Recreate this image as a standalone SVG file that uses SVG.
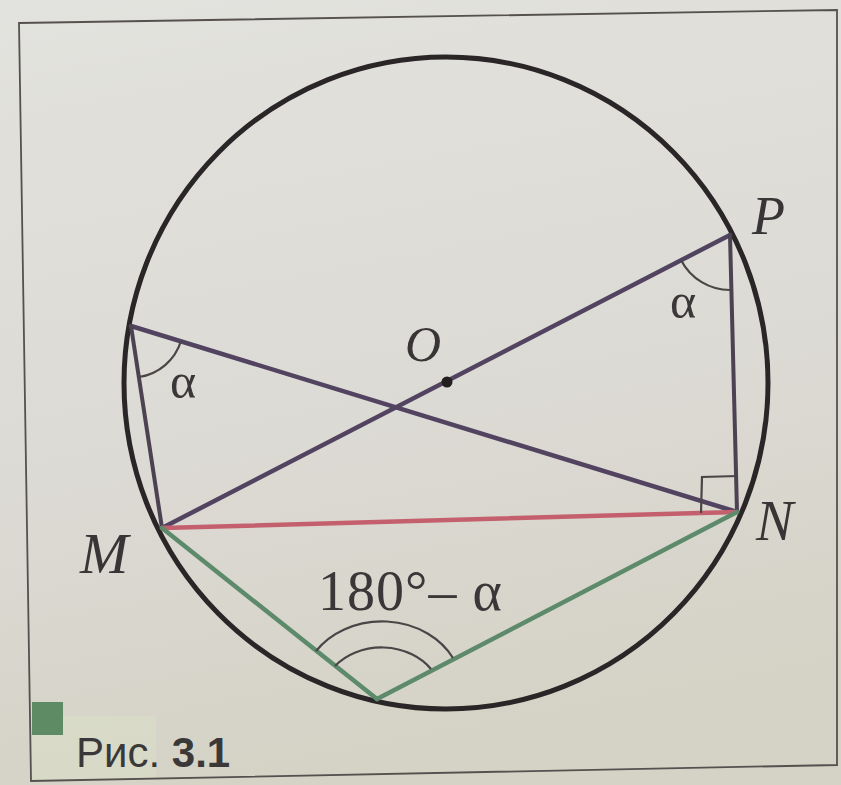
<svg xmlns="http://www.w3.org/2000/svg" width="841" height="785" viewBox="0 0 841 785">
  <defs>
    <linearGradient id="paper" x1="0" y1="0" x2="0.2" y2="1">
      <stop offset="0" stop-color="#e2e2de"/>
      <stop offset="0.6" stop-color="#dcdad4"/>
      <stop offset="1" stop-color="#d5d2c6"/>
    </linearGradient>
    <style>
      .frame { fill: none; stroke: #55514f; stroke-width: 1.8; }
      .circ { fill: none; stroke: #2a2526; stroke-width: 5; }
      .purple { stroke: #524460; stroke-width: 4.5; stroke-linecap: round; fill: none; }
      .chord { stroke: #4c4252; stroke-width: 4; stroke-linecap: round; fill: none; }
      .red { stroke: #c4606e; stroke-width: 4.5; stroke-linecap: round; fill: none; }
      .green { stroke: #5d8a6b; stroke-width: 4.5; stroke-linecap: round; fill: none; }
      .mark { stroke: #4a4546; stroke-width: 2.2; fill: none; }
      .lbl { font-family: "Liberation Serif", "Times New Roman", serif; font-style: italic; fill: #393536; }
      .greek { font-family: "Liberation Serif", "Times New Roman", serif; fill: #3b3738; }
      .cap { font-family: "Liberation Sans", Arial, sans-serif; fill: #3a3838; }
    </style>
  </defs>

  <rect x="0" y="0" width="841" height="785" fill="url(#paper)"/>
  <rect x="32" y="716" width="124" height="64" fill="#d9dfc6" opacity="0.6"/>

  <g id="frame">
    <path class="frame" d="M19,23 L837,10 L837,765 L31,781 Z"/>
  </g>

  <g id="circle">
    <ellipse class="circ" cx="446" cy="383" rx="322" ry="326"/>
  </g>

  <g id="connectors">
    <line class="purple" x1="730" y1="235" x2="162" y2="528"/>
    <line class="purple" x1="131" y1="326" x2="737" y2="512"/>
    <line class="chord" x1="131" y1="326" x2="162" y2="528"/>
    <line class="chord" x1="730" y1="235" x2="737" y2="512"/>
    <line class="red" x1="162" y1="528" x2="737" y2="512"/>
    <line class="green" x1="162" y1="528" x2="377" y2="699"/>
    <line class="green" x1="377" y1="699" x2="737" y2="512"/>
  </g>

  <g id="marks">
    <path class="mark" d="M181,341 A52 52 0 0 1 139,377"/>
    <path class="mark" d="M681,260 A55 55 0 0 0 731,290"/>
    <path class="mark" d="M738,476 L702,477 L701,513"/>
    <path class="mark" d="M316,651 A80 68 0 0 1 453,658"/>
    <path class="mark" d="M335,666 A60 50 0 0 1 431,669"/>
  </g>

  <g id="O">
    <circle cx="447" cy="382" r="5.5" fill="#231f20"/>
    <text class="lbl" x="405" y="361" font-size="50">O</text>
  </g>
  <g id="P">
    <text class="lbl" x="752" y="234" font-size="54">P</text>
  </g>
  <g id="N">
    <text class="lbl" x="756" y="540" font-size="56">N</text>
  </g>
  <g id="M">
    <text class="lbl" x="80" y="573" font-size="58">M</text>
  </g>

  <g id="angle-labels">
    <text class="greek" x="170" y="398" font-size="50">α</text>
    <text class="greek" x="670" y="318" font-size="50">α</text>
    <text class="greek" x="318" y="610" font-size="56" letter-spacing="1">180°– α</text>
  </g>

  <g id="caption">
    <rect x="32" y="702" width="31" height="33" fill="#5e8a64"/>
    <text class="cap" x="76" y="767" font-size="42">Рис. <tspan font-weight="bold">3.1</tspan></text>
  </g>
</svg>
